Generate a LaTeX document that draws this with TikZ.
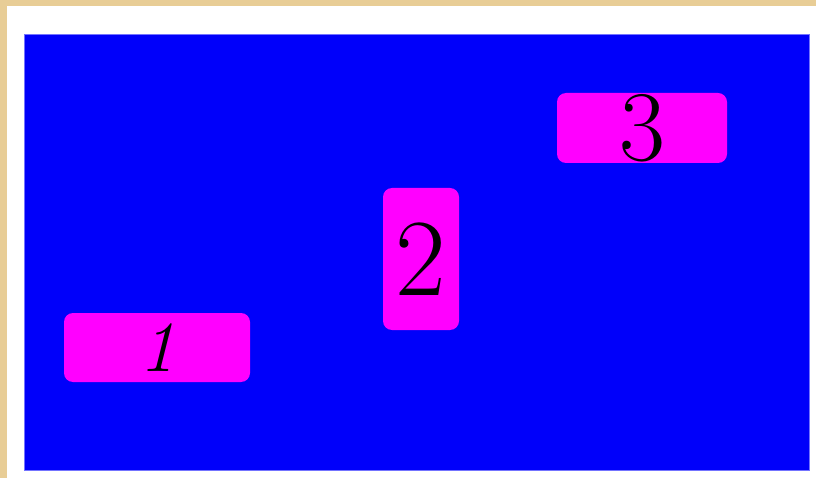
\documentclass[tikz,border=0pt]{standalone}
\usepackage{xcolor}
\usepackage{tikz}
\usetikzlibrary{positioning}

\definecolor{parchment}{RGB}{232,205,150}
\definecolor{boardblue}{RGB}{0,0,250}
\definecolor{cardpink}{RGB}{255,0,255}

\tikzset{
  card/.style={fill=cardpink, rounded corners=9pt, inner sep=0pt, text=black},
}

\begin{document}
\begin{tikzpicture}[x=1pt, y=-1pt]
  \useasboundingbox (0,0) rectangle (816,478);
  \fill[parchment] (0,0) rectangle (816,478);
  \fill[white] (7,6) rectangle (816,478);
  \fill[boardblue] (24,34) rectangle (809,470);
  \draw[blue!55, line width=0.6pt] (24,34) rectangle (809,470);
  % cards
  \node[card, minimum width=186pt, minimum height=69pt] (card1) at (157,347.5)
    {\fontsize{72}{72}\selectfont\itshape 1};
  \node[card, minimum width=76pt, minimum height=142pt] (card2) at (421,259)
    {\fontsize{110}{110}\selectfont 2};
  \node[card, minimum width=170pt, minimum height=70pt] (card3) at (642,128)
    {\fontsize{100}{100}\selectfont 3};
\end{tikzpicture}
\end{document}
